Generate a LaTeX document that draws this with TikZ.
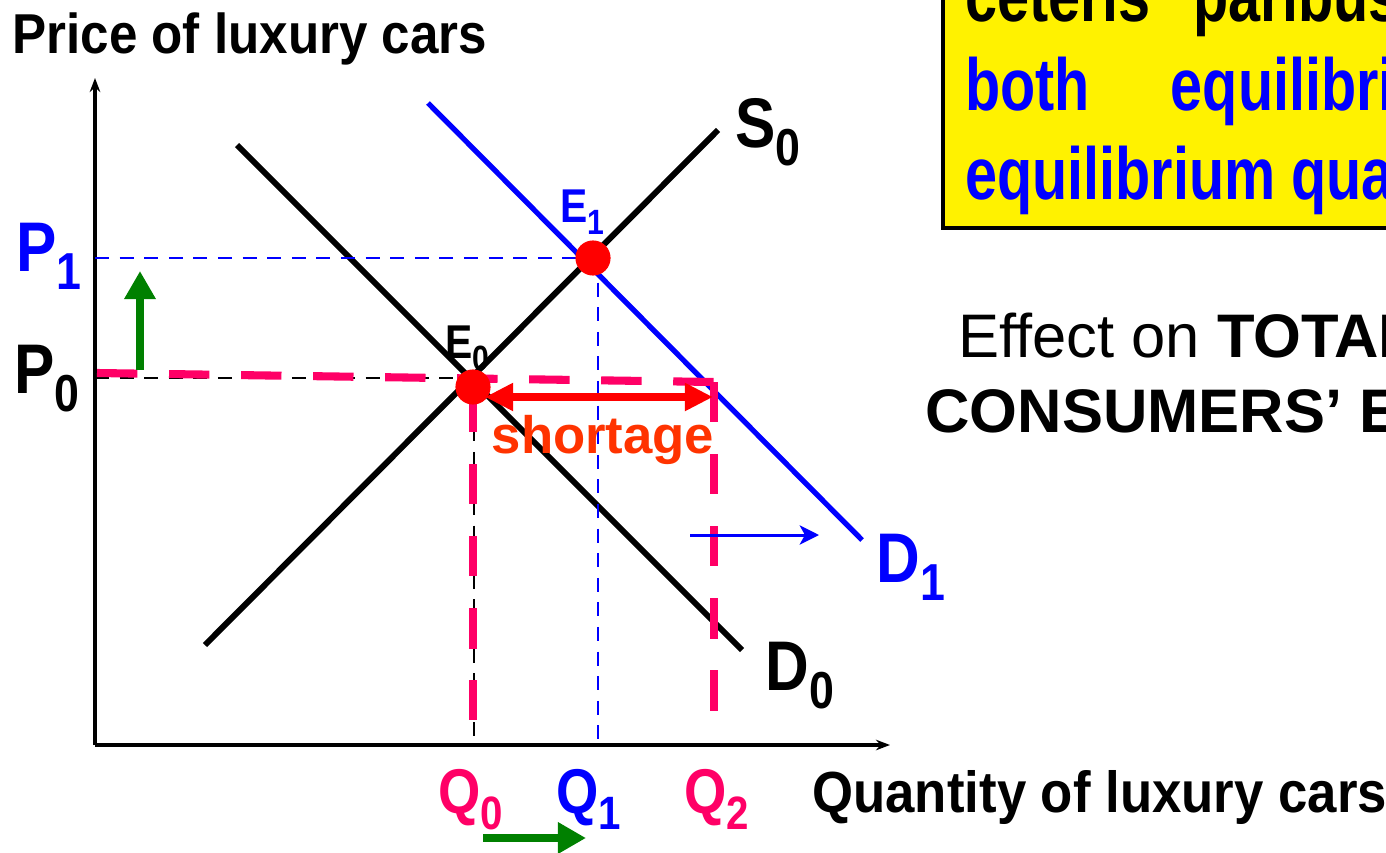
\documentclass[tikz,border=0pt]{standalone}
\usepackage{fontspec}
\setmainfont{Liberation Sans}
\newfontfamily\condfont[FakeStretch=0.86]{Liberation Sans}
\newfontfamily\titlefont[FakeStretch=0.91]{Liberation Sans}
\newfontfamily\narrowfont[FakeStretch=0.78]{Liberation Sans}
\usepackage{xcolor}
\usetikzlibrary{arrows.meta, positioning}
\definecolor{qpink}{RGB}{255,0,102}
\definecolor{sblue}{RGB}{0,0,255}
\definecolor{sgreen}{RGB}{0,128,0}
\definecolor{sorange}{RGB}{255,51,0}
\definecolor{sred}{RGB}{255,0,0}
\newcommand{\lowidx}[1]{\raisebox{-0.5ex}{\scalebox{0.74}{#1}}}

\begin{document}
\begin{tikzpicture}[x=0.02cm, y=-0.02cm,
    axis/.style={line width=2.2pt, -{Stealth[length=8pt,width=6pt]}},
    curve/.style={line width=3.4pt},
    guide/.style={line width=1.5pt, dash pattern=on 8pt off 6pt},
    pinkdash/.style={qpink, line width=4.6pt, dash pattern=on 23pt off 18pt},
    push/.style={sgreen, line width=5pt, -{Triangle[length=16pt,width=17pt]}},
    lbl/.style={font=\fontsize{40}{42}\condfont\bfseries, inner sep=0pt, anchor=base west},
    qlbl/.style={font=\fontsize{36}{38}\condfont\bfseries, inner sep=0pt, anchor=base west},
    elbl/.style={font=\fontsize{27}{29}\condfont\bfseries, inner sep=0pt, anchor=base west},
    ttl/.style={inner sep=0pt, anchor=base west},
    note/.style={font=\fontsize{42}{44}\narrowfont\bfseries, inner sep=0pt, anchor=base west},
    dot/.style={circle, fill=sred, inner sep=0pt, minimum size=20pt}
  ]
    \useasboundingbox (0,0) rectangle (1386,852);
    \clip (0,0) rectangle (1386,852);

    % axes
    \coordinate (O) at (95,745);
    \coordinate (ytop) at (95,78);
    \coordinate (xend) at (890,745);
    \draw[axis] (O) -- (ytop);
    \draw[axis] (O) -- (xend);
    \node[ttl, font=\fontsize{32}{34}\titlefont\bfseries] (ylab) at (12,53) {Price of luxury cars};
    \node[ttl, font=\fontsize{33}{35}\titlefont\bfseries] (xlab) at (812,812) {Quantity of luxury cars};

    % curves
    \coordinate (s0a) at (205,645);
    \coordinate (s0b) at (718,130);
    \coordinate (d0a) at (237,145);
    \coordinate (d0b) at (742,650);
    \coordinate (d1a) at (428,103);
    \coordinate (d1b) at (862,540);
    \draw[curve] (s0a) -- (s0b);
    \draw[curve] (d0a) -- (d0b);
    \draw[curve, sblue, line width=3pt] (d1a) -- (d1b);

    % guides
    \coordinate (p0) at (95,378);
    \coordinate (p1) at (95,258);
    \coordinate (e0) at (471,378);
    \coordinate (e1) at (592,258);
    \coordinate (q0) at (474,745);
    \coordinate (q1) at (598,745);
    \coordinate (e1v) at (598,258);
    \coordinate (e0v) at (474,378);
    \draw[guide, sblue] (p1) -- (e1);
    \draw[guide, sblue] (e1v) -- (q1);
    \draw[guide] (p0) -- (e0);
    \draw[guide] (e0v) -- (q0);

    % shortage
    \coordinate (pk0) at (97,373);
    \coordinate (pk1) at (714,382);
    \coordinate (pk2) at (714,718);
    \coordinate (pk3) at (473,392);
    \coordinate (pk4) at (473,720);
    \draw[pinkdash] (pk0) -- (pk1);
    \draw[pinkdash] (pk1) -- (pk2);
    \draw[pinkdash] (pk3) -- (pk4);

    \node[dot] (E0) at (473,387) {};
    \node[dot] (E1) at (593,258) {};

    \coordinate (sh0) at (485,397);
    \coordinate (sh1) at (713,397);
    \draw[sred, line width=4.4pt, {Triangle[length=16pt,width=15pt]}-{Triangle[length=16pt,width=15pt]}] (sh0) -- (sh1);
    \node[font=\fontsize{30}{32}\selectfont\bfseries, inner sep=0pt, sorange] (short) at (603,440) {shortage};

    % shifts
    \coordinate (ga) at (140,370);
    \coordinate (gb) at (140,271);
    \coordinate (gc) at (483,838);
    \coordinate (gd) at (586,838);
    \draw[push] (ga) -- (gb);
    \draw[push] (gc) -- (gd);
    \coordinate (ba) at (690,535);
    \coordinate (bb) at (819,535);
    \draw[sblue, line width=1.7pt, -{Stealth[length=11pt,width=11pt,inset=3pt]}] (ba) -- (bb);

    % labels
    \node[lbl, sblue] (P1) at (16,271) {P\lowidx{1}};
    \node[lbl] (P0) at (14,393) {P\lowidx{0}};
    \node[elbl] (E0l) at (445,358) {E\lowidx{0}};
    \node[elbl, sblue] (E1l) at (560,222) {E\lowidx{1}};
    \node[lbl] (S0) at (735,147) {S\lowidx{0}};
    \node[lbl, sblue] (D1) at (876,582) {D\lowidx{1}};
    \node[lbl] (D0) at (765,690) {D\lowidx{0}};
    \node[qlbl, qpink] (Q0) at (438,813) {Q\lowidx{0}};
    \node[qlbl, sblue] (Q1) at (556,813) {Q\lowidx{1}};
    \node[qlbl, qpink] (Q2) at (684,813) {Q\lowidx{2}};

    % yellow note
    \fill[yellow, draw=black, line width=2pt] (943,-10) rectangle (1400,228);
    \node[note] (n1) at (965,21) {ceteris\hspace{24pt}paribus};
    \node[note, sblue] (n2) at (965,110) {both\hspace{46pt}equilibrium};
    \node[note, sblue] (n3) at (965,199) {equilibrium quantity};

    \node[font=\fontsize{35}{37}\selectfont, inner sep=0pt, anchor=base west] (eff) at (958,357) {Effect on \textbf{TOTAL}};
    \node[font=\fontsize{35}{37}\selectfont\bfseries, inner sep=0pt, anchor=base west] (cons) at (925,432) {CONSUMERS’ EXPENDITURE};
  \end{tikzpicture}
\end{document}
